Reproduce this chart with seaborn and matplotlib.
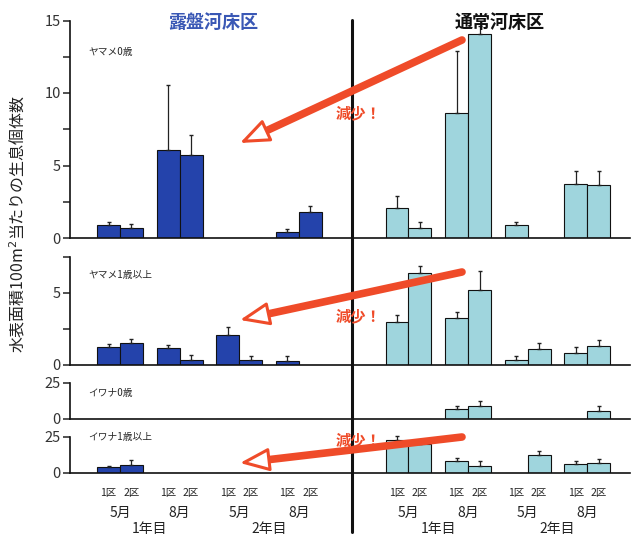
import matplotlib.pyplot as plt
import matplotlib.transforms as mtransforms
import numpy as np
import pandas as pd
import seaborn as sns

W, H = 634, 537

plots = ['1区', '2区']
months = ['5月', '8月', '5月', '8月']
years = ['1年目', '2年目']
panel_names = ['ヤマメ0歳', 'ヤマメ1歳以上', 'イワナ0歳', 'イワナ1歳以上']

# group centres (5月/8月 of year 1, 5月/8月 of year 2)
left_pos = [0, 1, 2, 3]
right_pos = [4.84, 5.84, 6.84, 7.84]

# values per group and plot: 5月1区, 5月2区, 8月1区, 8月2区, ... (mean, SE)
yamame0_left = [0.9, 0.7, 6.1, 5.7, 0, 0, 0.4, 1.8]
yamame0_left_se = [0.2, 0.25, 4.45, 1.4, 0, 0, 0.2, 0.4]
yamame0_right = [2.07, 0.7, 8.6, 14.1, 0.9, 0, 3.73, 3.66]
yamame0_right_se = [0.8, 0.4, 4.3, 0.5, 0.2, 0, 0.9, 0.95]

yamame1_left = [1.26, 1.53, 1.2, 0.35, 2.09, 0.37, 0.3, 0]
yamame1_left_se = [0.23, 0.26, 0.22, 0.35, 0.54, 0.26, 0.3, 0]
yamame1_right = [3.0, 6.4, 3.26, 5.21, 0.37, 1.12, 0.84, 1.35]
yamame1_right_se = [0.44, 0.46, 0.39, 1.3, 0.26, 0.39, 0.44, 0.39]

iwana0_left = [0, 0, 0, 0, 0, 0, 0, 0]
iwana0_left_se = [0, 0, 0, 0, 0, 0, 0, 0]
iwana0_right = [0, 0, 6.9, 9.3, 0, 0, 0, 5.6]
iwana0_right_se = [0, 0, 2.4, 3.4, 0, 0, 0, 3.4]

iwana1_left = [4.3, 5.9, 0, 0, 0, 0, 0, 0]
iwana1_left_se = [0.9, 3.2, 0, 0, 0, 0, 0, 0]
iwana1_right = [22.7, 20.0, 8.4, 5.2, 0, 12.5, 6.1, 7.2]
iwana1_right_se = [3.0, 2.0, 1.8, 3.0, 0, 2.7, 2.1, 2.3]

BAR_W = 0.77
DARK = '#2443ab'
LIGHT = '#9fd5dd'
RED = '#ef4b29'
TITLE_BLUE = '#3a58b5'


def px(x, y):
    return x / W, 1 - y / H


def frame(pos, mean, se):
    return pd.DataFrame({
        'pos': np.repeat(np.asarray(pos, dtype=float), 2),
        'ku': plots * len(pos),
        'mean': mean,
        'se': se,
    })


def draw_side(ax, df, color):
    sns.barplot(data=df, x='pos', y='mean', hue='ku', native_scale=True,
                palette=[color, color], width=BAR_W, errorbar=None,
                saturation=1, edgecolor='#111111', linewidth=0.8,
                legend=False, ax=ax)
    offs = np.tile([-BAR_W / 4, BAR_W / 4], len(df) // 2)
    xs = df['pos'].to_numpy() + offs
    m = df['se'].to_numpy() > 0
    ax.errorbar(xs[m], df['mean'].to_numpy()[m],
                yerr=[np.zeros(m.sum()), df['se'].to_numpy()[m]],
                fmt='none', ecolor='#222222', elinewidth=0.9, capsize=1.5,
                clip_on=False, zorder=3)


sns.set_theme(style='ticks')
plt.rcParams['font.family'] = ['Noto Sans CJK JP', 'DejaVu Sans']

fig = plt.figure(figsize=(W / 100, H / 100), dpi=100)

panels = [
    (yamame0_left, yamame0_left_se, yamame0_right, yamame0_right_se),
    (yamame1_left, yamame1_left_se, yamame1_right, yamame1_right_se),
    (iwana0_left, iwana0_left_se, iwana0_right, iwana0_right_se),
    (iwana1_left, iwana1_left_se, iwana1_right, iwana1_right_se),
]
# (bottom px, top px, ymax, ticks, tick labels, name y px)
layout = [
    (238, 20.5, 15, [0, 2.5, 5, 7.5, 10, 12.5, 15],
     ['0', '', '5', '', '10', '', '15'], 52),
    (365, 257, 7.5, [0, 2.5, 5, 7.5], ['0', '', '5', ''], 275),
    (419, 383, 25, [0, 25], ['0', '25'], 393),
    (473, 437, 25, [0, 25], ['0', '25'], 437),
]
x_left, x_right = 70, 630
unit = 59.6
xlim = ((x_left - 120) / unit, (x_right - 120) / unit)

axes = []
for (lm, lse, rm, rse), (bot, top, ymax, ticks, labels, name_y), name in zip(
        panels, layout, panel_names):
    l, b = px(x_left, bot)
    ax = fig.add_axes([l, b, (x_right - x_left) / W, (bot - top) / H])
    ax.set_facecolor('none')
    draw_side(ax, frame(left_pos, lm, lse), DARK)
    draw_side(ax, frame(right_pos, rm, rse), LIGHT)
    ax.set_xlim(*xlim)
    ax.set_ylim(0, ymax)
    ax.set_xticks([])
    ax.set_yticks(ticks)
    ax.set_yticklabels(labels, fontsize=10.5, color='#333333')
    ax.tick_params(axis='y', length=5, width=1.1, pad=1.5, color='#222222')
    ax.set_xlabel('')
    ax.set_ylabel('')
    sns.despine(ax=ax)
    for s in ('left', 'bottom'):
        ax.spines[s].set_linewidth(1.2)
        ax.spines[s].set_color('#111111')
    fig.text(*px(88, name_y), name, fontsize=7, va='center', ha='left')
    axes.append(ax)

# x category labels under the bottom panel
ax4 = axes[-1]
trans = mtransforms.blended_transform_factory(ax4.transData, fig.transFigure)
for pos in left_pos + right_pos:
    for k, off in zip(plots, (-BAR_W / 4, BAR_W / 4)):
        ax4.text(pos + off, px(0, 493)[1], k, transform=trans, fontsize=7.5,
                 ha='center', va='center', color='#222222')
for pos, mon in zip(left_pos + right_pos, months * 2):
    ax4.text(pos, px(0, 513)[1], mon, transform=trans, fontsize=10,
             ha='center', va='center', color='#222222')
for grp in (left_pos, right_pos):
    for i, yr in enumerate(years):
        xc = (grp[2 * i] + grp[2 * i + 1]) / 2
        ax4.text(xc, px(0, 529)[1], yr, transform=trans, fontsize=10,
                 ha='center', va='center', color='#222222')

fig.text(*px(18, 224), '水表面積100m$^{2}$当たりの生息個体数', rotation=90,
         fontsize=11.5, ha='center', va='center', color='#222222')
fig.text(*px(213, 22), '露盤河床区', fontsize=13, fontweight='bold',
         color=TITLE_BLUE, ha='center', va='center')
fig.text(*px(500, 22), '通常河床区', fontsize=13, fontweight='bold',
         color='#111111', ha='center', va='center')

# overlay for arrows and divider (pixel coordinates)
ov = fig.add_axes([0, 0, 1, 1])
ov.set_xlim(0, W)
ov.set_ylim(H, 0)
ov.axis('off')

arrows = [((462, 40), (240, 143), 113),
          ((462, 272), (240, 320), 316),
          ((462, 437), (240, 463), 440)]
for start, tip, text_y in arrows:
    ov.annotate('', xy=tip, xytext=start,
                arrowprops=dict(arrowstyle='-', lw=5.5, color=RED,
                                shrinkA=0, shrinkB=12))
    ov.annotate('', xy=tip, xytext=start,
                arrowprops=dict(arrowstyle='-|>,head_length=0.9,head_width=0.36',
                                lw=2.2, ec=RED, fc='white', shrinkA=0,
                                shrinkB=0, mutation_scale=20))
    ov.text(358, text_y, '減少！', fontsize=11, fontweight='bold', color=RED,
            ha='center', va='center')

ov.plot([352, 352], [20, 532], color='#111111', lw=2.2)

fig.savefig('out.png', dpi=100)
